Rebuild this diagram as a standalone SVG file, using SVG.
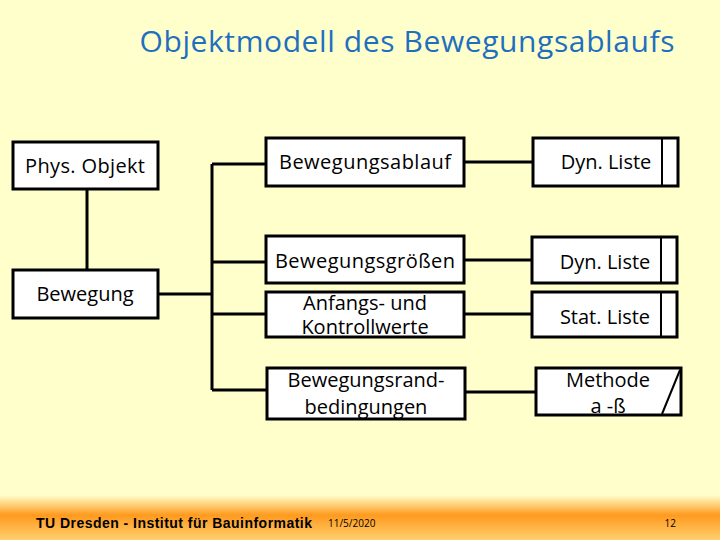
<svg xmlns="http://www.w3.org/2000/svg" width="720" height="540" viewBox="0 0 720 540">
<defs>
<linearGradient id="band" x1="0" y1="0" x2="0" y2="1">
<stop offset="0" stop-color="#FFFFCC"/><stop offset="0.45" stop-color="#FF9A1E"/><stop offset="1" stop-color="#FFD070"/>
</linearGradient>
<style>
.b{fill:#fff;stroke:#000;stroke-width:3}
.t{font-family:"Open Sans","DejaVu Sans",sans-serif;font-size:20px;fill:#000;text-anchor:middle}
.c{fill:none;stroke:#000;stroke-width:3}
</style>
</defs>
<rect width="720" height="540" fill="#FFFFCC"/>
<rect y="495" width="720" height="45" fill="url(#band)"/>
<text x="407" y="52" font-family="'Open Sans','DejaVu Sans',sans-serif" font-size="30" fill="#1F6FC0" text-anchor="middle" textLength="535">Objektmodell des Bewegungsablaufs</text>
<g id="connectors">
<path class="c" d="M87 189V270M158 294H212M212 164V390M212 164H266M212 262H266M212 314H266M212 390H267M464 162H533M464 260H532M464 314H532M465 392H536"/>
</g>
<g id="phys"><rect class="b" x="13" y="142" width="145" height="47"/><text class="t" x="85" y="173" textLength="120">Phys. Objekt</text></g>
<g id="bewegung"><rect class="b" x="13" y="270" width="145" height="48"/><text class="t" x="85" y="301">Bewegung</text></g>
<g id="ablauf"><rect class="b" x="266" y="138" width="198" height="48"/><text class="t" x="365" y="169" textLength="172">Bewegungsablauf</text></g>
<g id="groessen"><rect class="b" x="266" y="236" width="198" height="47"/><text class="t" x="365" y="268" textLength="180">Bewegungsgrößen</text></g>
<g id="anfang"><rect class="b" x="266" y="292" width="198" height="45"/><text class="t" x="365" y="310" font-size="14">Anfangs- und</text><text class="t" x="365" y="334" font-size="14">Kontrollwerte</text></g>
<g id="rand"><rect class="b" x="267" y="368" width="198" height="51"/><text class="t" x="366" y="387">Bewegungsrand-</text><text class="t" x="366" y="414">bedingungen</text></g>
<g id="dyn1"><rect class="b" x="533" y="138" width="145" height="48"/><line x1="662" y1="138" x2="662" y2="186" stroke="#000" stroke-width="2"/><text class="t" x="606" y="169">Dyn. Liste</text></g>
<g id="dyn2"><rect class="b" x="532" y="237" width="145" height="46"/><line x1="661" y1="237" x2="661" y2="283" stroke="#000" stroke-width="2"/><text class="t" x="605" y="269">Dyn. Liste</text></g>
<g id="stat"><rect class="b" x="532" y="292" width="145" height="45"/><line x1="661" y1="292" x2="661" y2="337" stroke="#000" stroke-width="2"/><text class="t" x="605" y="324">Stat. Liste</text></g>
<g id="methode"><rect class="b" x="536" y="368" width="145" height="47"/><line x1="680" y1="370" x2="662" y2="414" stroke="#000" stroke-width="2"/><text class="t" x="608" y="387">Methode</text><text class="t" x="608" y="413">a -ß</text></g>
<text x="36" y="528" font-family="'Liberation Sans',Arial,sans-serif" font-size="14" font-weight="bold" fill="#000" textLength="276">TU Dresden - Institut für Bauinformatik</text>
<text x="328" y="527" font-family="'Open Sans',sans-serif" font-size="10" fill="#000">11/5/2020</text>
<text x="676" y="527" font-family="'Open Sans',sans-serif" font-size="10" fill="#000" text-anchor="end">12</text>
</svg>
